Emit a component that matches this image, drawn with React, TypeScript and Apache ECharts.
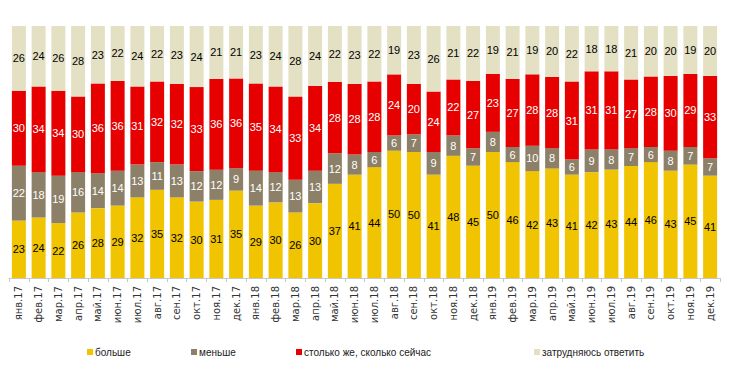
import React, { useEffect, useRef } from "react";
import * as echarts from "echarts";

const months = [
  "янв.17", "фев.17", "мар.17", "апр.17", "май.17", "июн.17", "июл.17", "авг.17", "сен.17", "окт.17", "ноя.17", "дек.17",
  "янв.18", "фев.18", "мар.18", "апр.18", "май.18", "июн.18", "июл.18", "авг.18", "сен.18", "окт.18", "ноя.18", "дек.18",
  "янв.19", "фев.19", "мар.19", "апр.19", "май.19", "июн.19", "июл.19", "авг.19", "сен.19", "окт.19", "ноя.19", "дек.19",
];

const more = [23, 24, 22, 26, 28, 29, 32, 35, 32, 30, 31, 35, 29, 30, 26, 30, 37, 41, 44, 50, 50, 41, 48, 45, 50, 46, 42, 43, 41, 42, 43, 44, 46, 43, 45, 41];
const less = [22, 18, 19, 16, 14, 14, 13, 11, 13, 12, 12, 9, 14, 12, 13, 13, 12, 8, 6, 6, 7, 9, 8, 7, 8, 6, 10, 8, 6, 9, 8, 7, 6, 8, 7, 7];
const same = [30, 34, 34, 30, 36, 36, 31, 32, 32, 33, 36, 36, 35, 34, 33, 34, 28, 28, 28, 24, 20, 24, 22, 27, 23, 27, 28, 28, 31, 31, 31, 27, 28, 30, 29, 33];
const hard = [26, 24, 26, 28, 23, 22, 24, 22, 23, 24, 21, 21, 23, 24, 28, 24, 22, 23, 22, 19, 23, 26, 21, 22, 19, 21, 19, 20, 22, 18, 18, 21, 20, 20, 19, 20];

const seriesNames = ["больше", "меньше", "столько же, сколько сейчас", "затрудняюсь ответить"];
const seriesData = [more, less, same, hard];
const colors = ["#F0C400", "#8C8068", "#E60000", "#E4E0C4"];
const labelColors = ["#000000", "#FFFFFF", "#FFFFFF", "#000000"];
const legendLeft = [82, 186, 291, 529];

export default function App() {
  const ref = useRef<HTMLDivElement>(null);
  useEffect(() => {
    if (!ref.current) return;
    const chart = echarts.init(ref.current, null, { renderer: "svg" });
    const totals = months.map((_, i) => seriesData.reduce((s, arr) => s + arr[i], 0));
    const font = "'Liberation Sans', Arial, sans-serif";
    chart.setOption({
      animation: false,
      textStyle: { fontFamily: font },
      grid: { left: 9, right: 10, top: 26, bottom: 102 },
      xAxis: {
        type: "category",
        data: months,
        axisLine: { lineStyle: { color: "#C8C8C8" } },
        axisTick: { show: true, length: 4, lineStyle: { color: "#C8C8C8" } },
        axisLabel: { rotate: 90, interval: 0, fontSize: 10, color: "#333", margin: 8, fontFamily: "'DejaVu Sans', sans-serif" },
      },
      yAxis: { type: "value", min: 0, max: 100, show: false, splitLine: { show: false } },
      legend: seriesNames.map((n, k) => ({
        data: [n],
        left: legendLeft[k],
        top: 342,
        itemWidth: 6,
        itemHeight: 6,
        icon: "rect",
        selectedMode: false,
        textStyle: { fontSize: 10, color: "#222", fontFamily: font, padding: [0, 0, 0, -3] },
      })),
      series: seriesNames.map((n, k) => ({
        name: n,
        type: "bar",
        stack: "all",
        barWidth: 14,
        itemStyle: { color: colors[k] },
        data: seriesData[k].map((v, i) => (v / totals[i]) * 100),
        label: {
          show: true,
          position: "inside",
          color: labelColors[k],
          fontSize: 11,
          fontFamily: font,
          formatter: (p: any) => String(seriesData[k][p.dataIndex]),
        },
      })),
    });
    return () => chart.dispose();
  }, []);
  return <div ref={ref} style={{ width: 730, height: 380, margin: -8 }} />;
}
